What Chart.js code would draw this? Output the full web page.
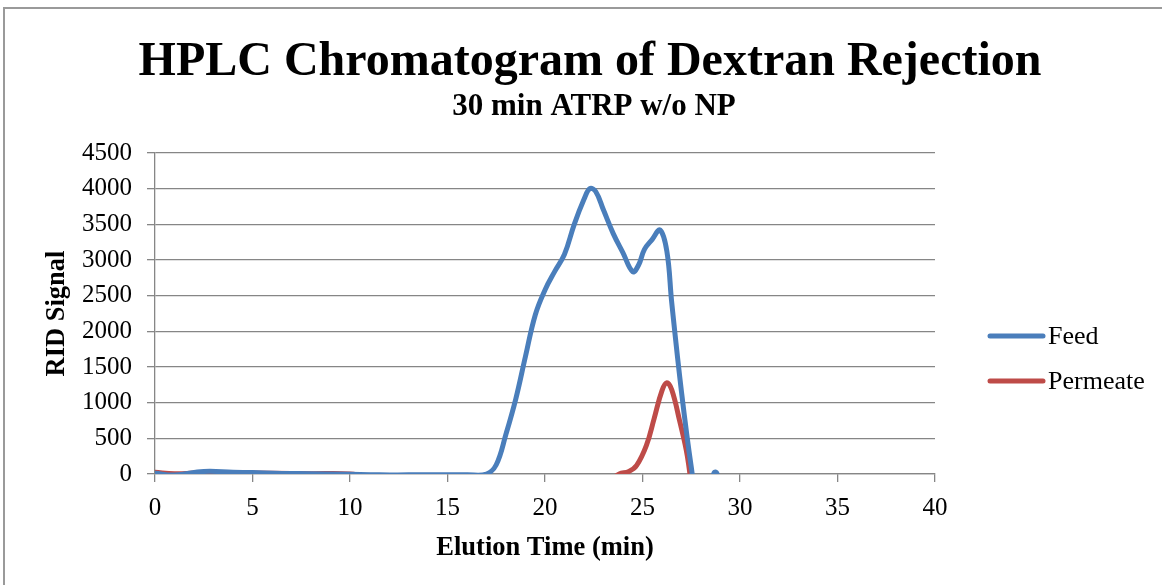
<!DOCTYPE html>
<html>
<head>
<meta charset="utf-8">
<title>HPLC Chromatogram of Dextran Rejection</title>
<script src="https://cdn.jsdelivr.net/npm/chart.js@4.4.1/dist/chart.umd.min.js"></script>
<style>
    html, body { margin: 0; padding: 0; background: #fff; overflow: hidden; }
    #frame { position: absolute; left: 3px; top: 7px; width: 1200px; height: 620px; border: 2px solid #9a9a9a; box-sizing: border-box; }
    #chart { position: absolute; left: 0; top: 0; }
</style>
</head>
<body>
<div id="frame"></div>
<canvas id="chart" width="1162" height="585"></canvas>
<script>
const titleText = 'HPLC Chromatogram of Dextran Rejection';
const subtitleText = '30 min ATRP w/o NP';
const xTitle = 'Elution Time (min)';
const yTitle = 'RID Signal';
const seriesNames = ['Feed', 'Permeate'];
const seriesColors = ['#4a7ebb', '#be4b48'];

const xTicks = [0, 5, 10, 15, 20, 25, 30, 35, 40];
const yTicks = [0, 500, 1000, 1500, 2000, 2500, 3000, 3500, 4000, 4500];

// (min, RID signal)
const feedTime = [0, 1, 2.5, 4, 5, 6.5, 8, 10, 11.5, 13, 14.5, 16, 17, 17.5, 18, 18.5, 19, 19.5, 20, 20.5, 21, 21.5, 22, 22.3, 22.6, 23, 23.5, 24, 24.5, 24.8, 25.1, 25.5, 25.9, 26.25, 26.5, 27, 27.5, 28, 28.7, 29.2];
const feedSignal = [10, -15, 35, 25, 20, 8, 5, -5, -12, -12, -12, -10, 0, 130, 560, 1050, 1650, 2230, 2580, 2840, 3080, 3500, 3850, 4000, 3960, 3700, 3370, 3100, 2836, 2930, 3150, 3290, 3420, 3120, 2400, 1150, 100, -700, 25, -400];

const permTime = [0, 1, 2.5, 4, 6, 8, 10, 12, 15, 18, 21, 23.3, 23.8, 24.3, 24.7, 25.2, 25.6, 26, 26.25, 26.5, 26.9, 27.3, 27.7];
const permSignal = [25, 5, 20, 15, 10, 5, 0, -80, -80, -80, -80, -80, 0, 35, 120, 400, 780, 1170, 1280, 1180, 750, 250, -600];

Chart.defaults.font.family = "'Liberation Serif', 'Times New Roman', serif";
Chart.defaults.color = '#000';

const gridColor = '#868686';

function toPoints(xs, ys) {
    return xs.map((x, i) => ({ x: x, y: ys[i] }));
}

// title, subtitle and legend sit where the original puts them
const decorations = {
    id: 'decorations',
    afterDraw(chart) {
        const ctx = chart.ctx;
        ctx.save();
        ctx.fillStyle = '#000';
        ctx.textAlign = 'center';
        ctx.textBaseline = 'alphabetic';
        ctx.font = "bold 48px 'Liberation Serif'";
        ctx.fillText(titleText, 590, 75);
        ctx.font = "bold 31px 'Liberation Serif'";
        ctx.fillText(subtitleText, 594, 115);

        ctx.textAlign = 'left';
        ctx.textBaseline = 'middle';
        ctx.font = "26px 'Liberation Serif'";
        ctx.lineCap = 'round';
        ctx.lineWidth = 5;
        seriesNames.forEach((name, i) => {
            const y = 336 + i * 45;
            ctx.strokeStyle = seriesColors[i];
            ctx.beginPath();
            ctx.moveTo(990, y);
            ctx.lineTo(1043, y);
            ctx.stroke();
            ctx.fillText(name, 1048, y + 1);
        });
        ctx.restore();
    }
};

new Chart(document.getElementById('chart'), {
    type: 'line',
    data: {
        datasets: [
            { label: seriesNames[0], data: toPoints(feedTime, feedSignal), borderColor: seriesColors[0], backgroundColor: seriesColors[0], borderWidth: 5, pointRadius: 0, tension: 0.4, borderCapStyle: 'round' },
            { label: seriesNames[1], data: toPoints(permTime, permSignal), borderColor: seriesColors[1], backgroundColor: seriesColors[1], borderWidth: 5, pointRadius: 0, tension: 0.4, borderCapStyle: 'round' }
        ]
    },
    options: {
        responsive: false,
        animation: false,
        layout: { padding: { left: 0, right: 227, top: 153, bottom: 0 } },
        plugins: {
            legend: { display: false },
            title: { display: false },
            tooltip: { enabled: false }
        },
        scales: {
            x: {
                type: 'linear',
                min: xTicks[0],
                max: xTicks[xTicks.length - 1],
                afterBuildTicks: s => { s.ticks = xTicks.map(v => ({ value: v })); },
                afterFit: s => { s.height = 111; s.paddingLeft = 0; s.paddingRight = 0; },
                grid: { drawOnChartArea: false, drawTicks: true, tickLength: 8, color: gridColor, lineWidth: 1.3 },
                border: { display: true, color: gridColor, width: 1.3 },
                ticks: { font: { size: 25 }, padding: 11, maxRotation: 0, callback: v => String(v) },
                title: { display: true, text: xTitle, font: { size: 26.5, weight: 'bold' }, padding: { top: 0, bottom: 21 } }
            },
            y: {
                min: yTicks[0],
                max: yTicks[yTicks.length - 1],
                afterBuildTicks: s => { s.ticks = yTicks.map(v => ({ value: v })); },
                afterFit: s => { s.width = 155; s.paddingTop = 0; s.paddingBottom = 0; },
                grid: { drawOnChartArea: true, drawTicks: true, tickLength: 8, color: gridColor, lineWidth: 1.3 },
                border: { display: true, color: gridColor, width: 1.3 },
                ticks: { font: { size: 25 }, padding: 15, callback: v => String(v) },
                title: { display: true, text: yTitle, font: { size: 26.5, weight: 'bold' }, padding: { top: 41, bottom: 0 } }
            }
        }
    },
    plugins: [decorations]
});
</script>
</body>
</html>
